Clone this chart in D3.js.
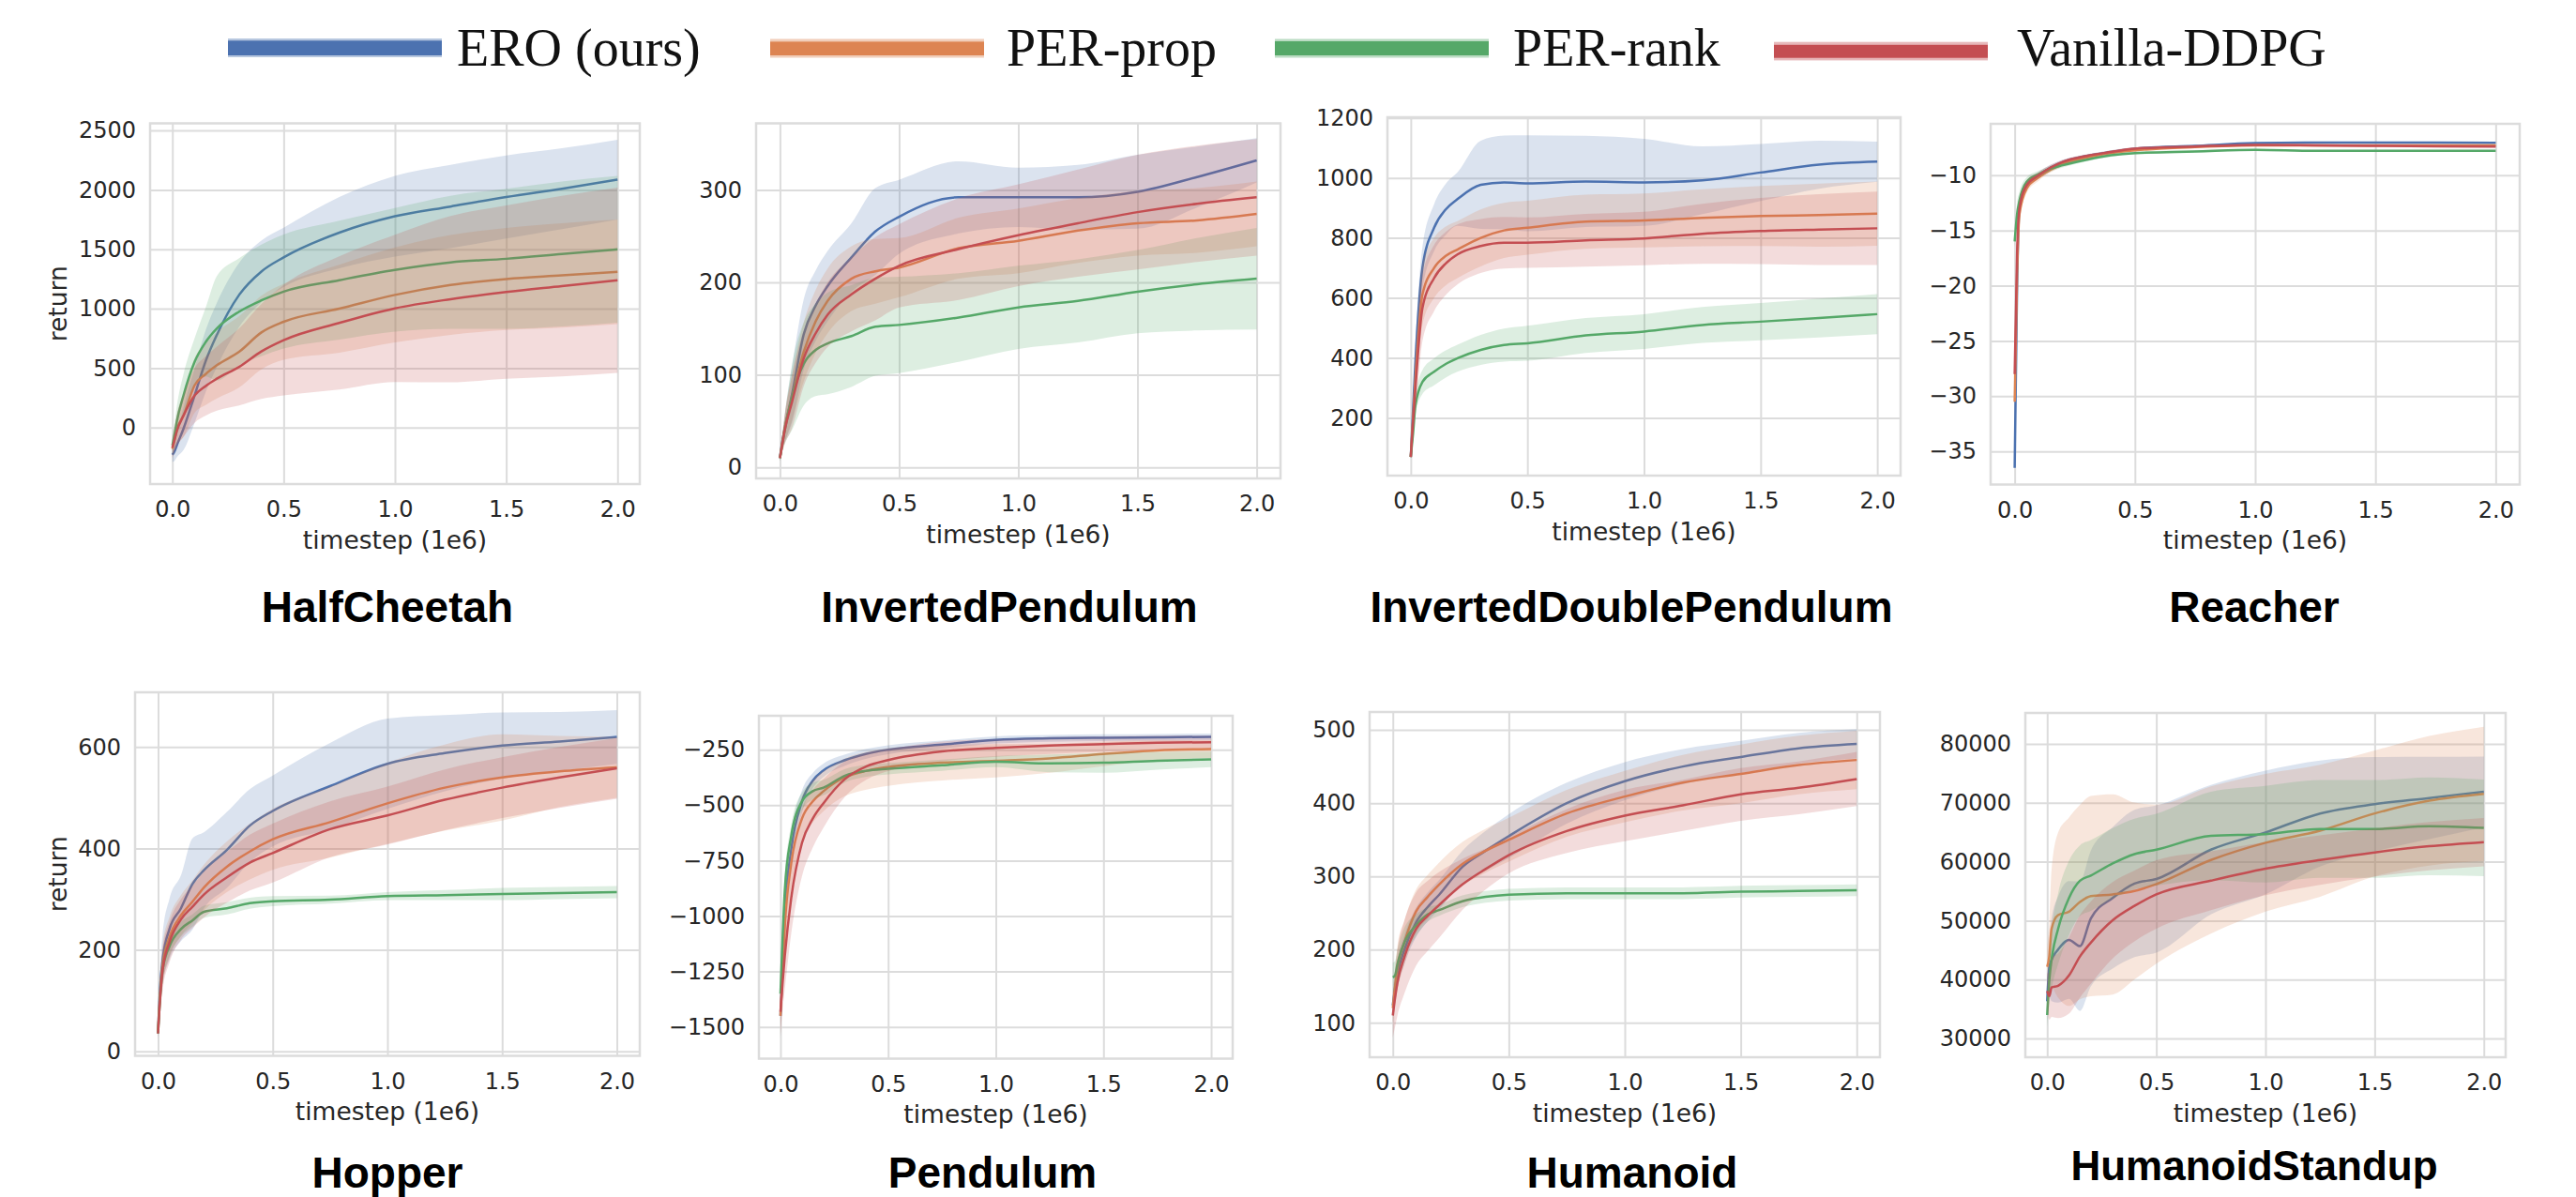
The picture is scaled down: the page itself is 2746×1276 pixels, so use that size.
<!DOCTYPE html>
<html><head><meta charset="utf-8">
<script src="https://cdn.jsdelivr.net/npm/d3@7"></script>
<style>html,body{margin:0;padding:0;background:#fff;} svg{display:block}</style>
</head><body>
<svg id="chart" width="2746" height="1276"></svg>
<script>
// ---------- DATA ----------
const SERIES = ["ERO (ours)", "PER-prop", "PER-rank", "Vanilla-DDPG"];
const COLORS = ["#4c72b0", "#dd8452", "#55a868", "#c44e52"];
const X = [0, 0.01, 0.02, 0.05, 0.1, 0.15, 0.2, 0.3, 0.4, 0.5, 0.75, 1.0, 1.25, 1.5, 1.75, 2.0];
const X_TICKS = [0, 0.5, 1.0, 1.5, 2.0];

// order of rows: ERO, PER-prop, PER-rank, Vanilla-DDPG
const halfCheetahMean = [
  [-230,-200,-150,-10,270,560,780,1116,1313,1432,1640,1778,1860,1940,2010,2086],
  [-180,-100,-20,100,355,450,524,637,800,890,1000,1116,1200,1250,1280,1310],
  [-150,-60,50,270,552,720,834,975,1070,1144,1240,1327,1390,1420,1460,1500],
  [-170,-100,-30,100,270,350,411,510,640,735,880,1003,1080,1140,1190,1240]];
const halfCheetahSpread = [
  [60,80,100,180,230,260,270,270,260,250,300,340,350,350,340,335],
  [80,100,130,180,230,260,280,300,310,320,370,400,420,430,440,440],
  [80,100,130,180,200,290,440,450,470,480,500,520,560,590,610,617],
  [80,100,130,180,230,250,270,324,400,465,560,620,700,730,760,780]];
const halfCheetahTicks = [0, 500, 1000, 1500, 2000, 2500];

const invPendulumMean = [
  [10,28,42,78,144,175,196,227,255,271,292,292,292,298,314,332],
  [10,27,42,75,125,158,180,204,212,216,237,245,256,264,267,274],
  [10,25,40,75,112,127,134,142,152,154,162,173,180,190,198,204],
  [10,25,40,70,118,145,165,187,204,218,236,251,264,276,285,292]];
const invPendulumSpread = [
  [3,8,15,30,38,38,38,37,47,40,39,32,35,40,33,24],
  [3,8,15,25,32,34,35,35,35,32,33,35,35,35,35,35],
  [3,8,15,35,45,50,55,55,53,52,48,45,45,45,50,55],
  [3,8,15,28,30,32,35,40,45,45,55,55,58,62,63,63]];
const invPendulumTicks = [0, 100, 200, 300];

const invDoubleMean = [
  [70,230,388,700,834,895,929,977,985,982,988,985,992,1018,1044,1054],
  [70,200,330,611,700,740,761,800,825,834,854,858,867,873,876,881],
  [70,150,242,320,354,380,399,427,443,449,475,488,510,521,533,546],
  [70,190,300,566,666,715,745,773,784,784,792,798,814,823,828,832]];
const invDoubleSpread = [
  [5,40,60,70,78,85,89,147,156,160,152,145,113,95,80,67],
  [5,30,60,100,100,98,95,95,92,90,90,90,95,100,105,107],
  [5,20,30,40,45,45,45,50,55,58,58,58,60,62,65,67],
  [5,40,80,110,110,105,100,90,86,84,88,89,100,110,118,122]];
const invDoubleTicks = [200, 400, 600, 800, 1000, 1200];

const reacherMean = [
  [-36.5,-20,-13,-11,-10.0,-9.3,-8.8,-8.25,-7.9,-7.6,-7.35,-7.1,-7.05,-7.05,-7.05,-7.06],
  [-30.5,-19,-13.5,-11.2,-10.2,-9.5,-9.0,-8.4,-8.0,-7.75,-7.45,-7.3,-7.3,-7.3,-7.3,-7.3],
  [-16,-13.5,-12.3,-10.6,-9.9,-9.4,-9.1,-8.6,-8.2,-8.0,-7.85,-7.7,-7.8,-7.8,-7.8,-7.8],
  [-28,-17,-13,-10.9,-10.0,-9.3,-8.8,-8.25,-7.9,-7.6,-7.4,-7.25,-7.3,-7.35,-7.38,-7.4]];
const reacherSpread = [
  [0.5,1.0,0.8,0.4,0.3,0.25,0.2,0.15,0.15,0.12,0.12,0.1,0.1,0.1,0.1,0.1],
  [0.5,1.0,0.8,0.4,0.3,0.25,0.2,0.15,0.15,0.12,0.12,0.1,0.1,0.1,0.1,0.1],
  [0.5,1.0,0.8,0.4,0.3,0.25,0.2,0.15,0.15,0.12,0.12,0.1,0.1,0.1,0.1,0.1],
  [0.5,1.0,0.8,0.4,0.3,0.25,0.2,0.15,0.15,0.12,0.12,0.1,0.1,0.1,0.1,0.1]];
const reacherTicks = [-35, -30, -25, -20, -15, -10];

const hopperMean = [
  [37,132,180,241,282,330,357,397,445,474,523,567,588,603,611,620],
  [40,120,170,225,268,295,323,364,394,418,452,489,520,540,552,560],
  [35,110,160,207,241,258,275,282,292,296,299,306,308,310,312,314],
  [35,110,160,215,260,285,309,343,372,391,438,465,496,520,540,558]];
const hopperSpread = [
  [10,40,50,60,65,90,75,75,72,70,85,89,75,65,58,53],
  [10,30,40,40,40,42,45,50,55,60,70,80,85,85,70,60],
  [5,20,25,20,15,12,12,12,11,10,8,8,10,12,12,12],
  [10,30,40,40,40,42,45,50,55,58,55,57,60,60,60,60]];
const hopperTicks = [0, 200, 400, 600];

const pendulumMean = [
  [-1450,-1229,-996,-701,-483,-390,-343,-297,-268,-250,-227,-206,-199,-196,-194,-192],
  [-1450,-1250,-1050,-763,-561,-483,-437,-374,-345,-328,-309,-300,-289,-269,-253,-247],
  [-1350,-1100,-887,-639,-483,-437,-421,-367,-345,-336,-320,-304,-312,-309,-300,-294],
  [-1432,-1300,-1183,-919,-670,-561,-491,-382,-325,-297,-258,-242,-231,-225,-219,-216]];
const pendulumSpread = [
  [100,100,80,70,50,35,30,25,22,20,18,16,15,15,15,15],
  [100,100,120,120,100,95,90,85,85,85,80,75,65,55,45,40],
  [100,80,60,50,40,38,35,30,27,25,25,25,40,45,40,35],
  [100,120,150,160,150,130,110,80,60,50,45,40,38,35,32,30]];
const pendulumTicks = [-1500, -1250, -1000, -750, -500, -250];

const humanoidMean = [
  [124,148,167,200,237,258,275,313,335,355,400,430,450,463,475,481],
  [120,150,175,210,252,272,289,317,335,350,386,409,428,440,452,459],
  [162,165,180,210,233,248,254,266,272,275,277,277,277,279,280,281],
  [110,135,155,190,228,246,261,289,310,329,362,383,397,412,421,433]];
const humanoidSpread = [
  [15,20,20,20,20,20,20,22,27,30,28,26,24,22,21,20],
  [20,25,30,30,30,30,30,30,30,30,32,35,38,40,40,40],
  [20,20,20,20,15,10,8,8,8,8,8,8,8,8,8,8],
  [30,40,45,50,50,48,45,35,28,25,30,35,35,36,36,37]];
const humanoidTicks = [100, 200, 300, 400, 500];

const standupMean = [
  [36300,42164,43330,45088,46725,45673,50350,53860,56300,57076,62047,64970,68190,69770,70820,71870],
  [42164,44000,48600,50936,51520,53160,54150,54450,55030,56200,60290,63220,65260,68190,70350,71520],
  [33977,40000,43330,48600,53860,56780,57660,59710,61300,62050,64390,64680,65560,65560,66020,65730],
  [38070,37190,38650,38950,40700,43920,46260,50060,52500,54450,56780,58830,60290,61580,62630,63330]];
const standupSpread = [
  [2000,5000,7000,9000,10000,11000,11500,12000,12500,12500,11000,10500,9000,8000,7000,6000],
  [3000,6000,10000,14000,16000,16500,17000,17000,15000,13500,12500,11700,11200,10700,11000,11400],
  [2000,4000,5000,6000,6300,6000,6000,6000,6000,6100,7500,8200,8300,8300,8300,8200],
  [3000,4000,5000,5500,6500,7000,7000,6500,6000,5800,5000,4500,4200,4100,4100,4100]];
const standupTicks = [30000, 40000, 50000, 60000, 70000, 80000];

// ---------- LAYOUT ----------
const PANELS = [
  {title:"HalfCheetah", mean:halfCheetahMean, sd:halfCheetahSpread, ticks:halfCheetahTicks, yDom:[-476,2560], box:[160,682,131.5,516], t:[413,663,46], ylabel:true},
  {title:"InvertedPendulum", mean:invPendulumMean, sd:invPendulumSpread, ticks:invPendulumTicks, yDom:[-12,372], box:[806,1365,131.5,510], t:[1076,663,46]},
  {title:"InvertedDoublePendulum", mean:invDoubleMean, sd:invDoubleSpread, ticks:invDoubleTicks, yDom:[8,1202], box:[1479,2026,125,507], t:[1739,663,46]},
  {title:"Reacher", mean:reacherMean, sd:reacherSpread, ticks:reacherTicks, yDom:[-38,-5.35], box:[2122,2686,132,516.5], t:[2403,663,46]},
  {title:"Hopper", mean:hopperMean, sd:hopperSpread, ticks:hopperTicks, yDom:[-9,708], box:[144,682,738,1125.5], t:[413,1266,46], ylabel:true},
  {title:"Pendulum", mean:pendulumMean, sd:pendulumSpread, ticks:pendulumTicks, yDom:[-1643,-97], box:[809,1314,763,1128.5], t:[1058,1266,46]},
  {title:"Humanoid", mean:humanoidMean, sd:humanoidSpread, ticks:humanoidTicks, yDom:[53,524.5], box:[1460,2004,759,1127], t:[1740,1266,46]},
  {title:"HumanoidStandup", mean:standupMean, sd:standupSpread, ticks:standupTicks, yDom:[26815,85255], box:[2159,2671,760,1127], t:[2403,1258,44]}
];
const LEGEND = [
  {x:243, text:487, y0:41, y1:61, d0:43.3, d1:59},
  {x:821, text:1073, y0:41.5, y1:61.5, d0:44.4, d1:59},
  {x:1359, text:1613, y0:41.5, y1:61.5, d0:44, d1:59},
  {x:1891, text:2150, y0:44.7, y1:64.4, d0:47.8, d1:61.7}
];

const GRID = "#dcdcdc";
const TXT = "#262626";
const svg = d3.select("#chart");
svg.append("rect").attr("width",2746).attr("height",1276).attr("fill","#fff");

PANELS.forEach((p, pi) => {
  const [L, R, T, B] = p.box;
  const x = d3.scaleLinear().domain([-0.1, 2.1]).range([L, R]);
  const y = d3.scaleLinear().domain(p.yDom).range([B, T]);
  const g = svg.append("g");

  // x grid + labels
  const gx = g.append("g").attr("transform", `translate(0,${B})`)
    .call(d3.axisBottom(x).tickValues(X_TICKS).tickFormat(d3.format(".1f"))
      .tickSize(-(B - T)).tickPadding(18));
  // y grid + labels
  const gy = g.append("g").attr("transform", `translate(${L},0)`)
    .call(d3.axisLeft(y).tickValues(p.ticks).tickFormat(d3.format("d"))
      .tickSize(-(R - L)).tickPadding(15));
  [gx, gy].forEach(a => {
    a.select(".domain").remove();
    a.selectAll(".tick line").attr("stroke", GRID).attr("stroke-width", 2);
    a.selectAll(".tick text").attr("fill", TXT)
      .style("font-family", "'DejaVu Sans', sans-serif").style("font-size", "24px");
  });

  // border
  g.append("rect").attr("x", L).attr("y", T).attr("width", R - L).attr("height", B - T)
    .attr("fill", "none").attr("stroke", GRID).attr("stroke-width", 2.5);

  // clip
  const cid = "clip" + pi;
  svg.append("clipPath").attr("id", cid).append("rect")
    .attr("x", L).attr("y", T).attr("width", R - L).attr("height", B - T);
  const plot = g.append("g").attr("clip-path", `url(#${cid})`);

  SERIES.forEach((s, si) => {
    const m = p.mean[si], sd = p.sd[si];
    const idx = d3.range(X.length);
    const area = d3.area().curve(d3.curveMonotoneX)
      .x(i => x(X[i])).y0(i => y(m[i] - sd[i])).y1(i => y(m[i] + sd[i]));
    const line = d3.line().curve(d3.curveMonotoneX)
      .x(i => x(X[i])).y(i => y(m[i]));
    plot.append("path").datum(idx).attr("d", area)
      .attr("fill", COLORS[si]).attr("fill-opacity", 0.2).attr("stroke", "none");
    plot.append("path").datum(idx).attr("d", line)
      .attr("fill", "none").attr("stroke", COLORS[si]).attr("stroke-width", 2.5)
      .attr("stroke-linejoin", "round");
  });

  // x label
  g.append("text").attr("x", (L + R) / 2).attr("y", B + 59)
    .attr("text-anchor", "middle").attr("dominant-baseline", "central")
    .attr("fill", TXT).style("font-family", "'DejaVu Sans', sans-serif").style("font-size", "26.5px")
    .text("timestep (1e6)");
  if (p.ylabel) {
    g.append("text").attr("transform", `translate(61,${(T + B) / 2}) rotate(-90)`)
      .attr("text-anchor", "middle").attr("dominant-baseline", "central")
      .attr("fill", TXT).style("font-family", "'DejaVu Sans', sans-serif").style("font-size", "26.5px")
      .text("return");
  }
  // title
  g.append("text").attr("x", p.t[0]).attr("y", p.t[1]).attr("text-anchor", "middle")
    .attr("fill", "#000").style("font-family", "'Liberation Sans', Arial, sans-serif")
    .style("font-weight", "bold").style("font-size", p.t[2] + "px").text(p.title);
});

// legend
const lg = svg.append("g");
SERIES.forEach((s, si) => {
  const l = LEGEND[si];
  lg.append("rect").attr("x", l.x).attr("y", l.y0).attr("width", 228).attr("height", l.y1 - l.y0)
    .attr("fill", COLORS[si]).attr("fill-opacity", 0.4);
  lg.append("rect").attr("x", l.x).attr("y", l.d0).attr("width", 228).attr("height", l.d1 - l.d0)
    .attr("fill", COLORS[si]);
  lg.append("text").attr("x", l.text).attr("y", 70).attr("fill", "#111")
    .style("font-family", "'Liberation Serif', 'Times New Roman', serif").style("font-size", "56px")
    .text(s);
});
</script>
</body></html>
